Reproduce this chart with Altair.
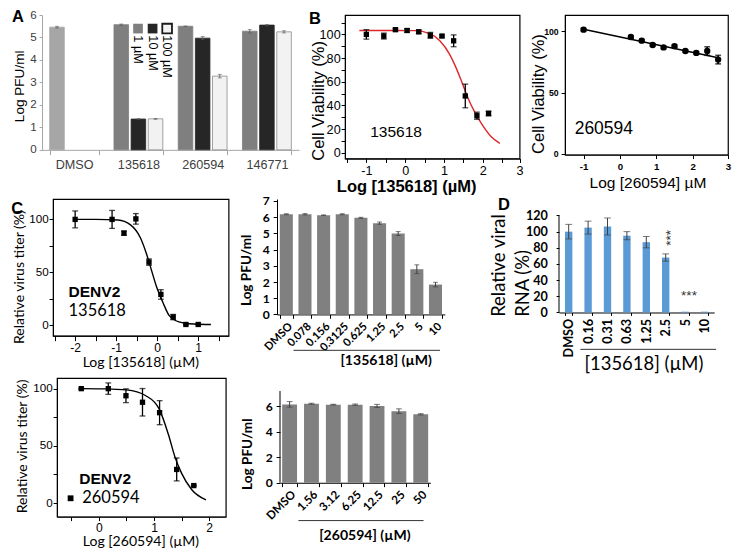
import altair as alt
import pandas as pd

S = 0.97


def s(v):
    return round(v * S, 3)


ARIAL = "Liberation Sans, Arial, sans-serif"
NARROW = "Liberation Sans Narrow, Liberation Sans, Arial, sans-serif"
CAL = "Lato, Open Sans, sans-serif"

# ---------------- data ----------------
# Panel A
a_categories = ["DMSO", "135618", "260594", "146771"]
a_group = ["DMSO", "135618", "135618", "135618", "260594", "260594", "260594", "146771", "146771", "146771"]
a_series = ["DMSO", "1 µM", "10 µM", "100 µM", "1 µM", "10 µM", "100 µM", "1 µM", "10 µM", "100 µM"]
a_slot = ["1 µM", "1 µM", "10 µM", "100 µM", "1 µM", "10 µM", "100 µM", "1 µM", "10 µM", "100 µM"]
a_value = [5.46, 5.57, 1.37, 1.38, 5.50, 4.97, 3.28, 5.28, 5.55, 5.25]
a_err = [0.04, 0.03, 0.02, 0.02, 0.01, 0.07, 0.08, 0.08, 0.03, 0.05]
a_legend = ["1 µM", "10 µM", "100 µM"]
a_series_domain = ["DMSO", "1 µM", "10 µM", "100 µM"]

# Panel B left (135618 cell viability)
bl_x = [-1.0, -0.55, -0.25, 0.05, 0.35, 0.65, 0.95, 1.25, 1.55, 1.85, 2.15]
bl_y = [100, 98.6, 104, 103.3, 102.2, 99.2, 98.6, 94.6, 48, 31.3, 33.2]
bl_err = [4, 2.5, 1, 1.5, 1.5, 2.5, 1, 5, 10, 3, 2]
bl_fit_x = [-1.18, -0.5, 0.24, 0.65, 0.9, 1.14, 1.3, 1.47, 1.63, 1.79, 1.96, 2.2, 2.44]
bl_fit_y = [103.3, 103.3, 103.2, 100.5, 94.5, 83.6, 72.8, 59, 45.5, 34.6, 25, 14.2, 7.9]

# Panel B right (260594 cell viability)
br_x = [-1, 0.3, 0.6, 0.9, 1.2, 1.5, 1.8, 2.1, 2.4, 2.7]
br_y = [101.5, 95.5, 92.5, 89, 87, 88, 84, 82.5, 84, 77]
br_err = [1, 1, 1, 1, 1, 1, 1, 1, 3.5, 3.5]
br_fit_x = [-1, 2.7]
br_fit_y = [101.8, 78.5]

# Panel C top-left (135618 titer)
ctl_x = [-2, -1.1, -0.81, -0.52, -0.2, 0.09, 0.39, 0.7, 1.0]
ctl_y = [100, 100, 87, 100.5, 59.6, 29, 7.6, 0.6, 0.6]
ctl_err = [8, 8.5, 2, 5, 3, 4.5, 2.5, 0.5, 0.5]
ctl_fit_x = [-2.02, -1.5, -0.96, -0.65, -0.41, -0.26, -0.14, -0.02, 0.14, 0.29, 0.53, 0.9, 1.31]
ctl_fit_y = [100, 100, 99.4, 94.8, 82.6, 67.3, 52, 36.7, 21.4, 9.2, 3.1, 1.0, 0.5]

# Panel C top-right (135618 PFU)
ctr_doses = ["DMSO", "0.078", "0.156", "0.3125", "0.625", "1.25", "2.5", "5", "10"]
ctr_vals = [6.18, 6.18, 6.12, 6.18, 5.96, 5.63, 4.99, 2.79, 1.84]
ctr_err = [0.03, 0.04, 0.02, 0.03, 0.03, 0.07, 0.12, 0.27, 0.14]

# Panel D (viral RNA)
d_doses = ["DMSO", "0.16", "0.31", "0.63", "1.25", "2.5", "5", "10"]
d_vals = [100, 105, 106.4, 95, 87, 68, 1, 1]
d_err = [9, 8, 10.5, 5, 7, 4.5, 0, 0]

# Panel C bottom-left (260594 titer)
cbl_x = [-0.32, 0.17, 0.49, 0.79, 1.1, 1.41, 1.72]
cbl_y = [100, 100, 93.8, 88.1, 79, 29.4, 15.3]
cbl_err = [0.5, 5, 6, 12, 10.5, 10, 0.5]
cbl_fit_x = [-0.32, 0.1, 0.5, 0.85, 1.09, 1.26, 1.38, 1.5, 1.68, 1.94]
cbl_fit_y = [100, 99.8, 98.9, 93.8, 82.5, 59.9, 40.1, 26, 11.9, 2.8]

# Panel C bottom-right (260594 PFU)
cbr_doses = ["DMSO", "1.56", "3.12", "6.25", "12.5", "25", "50"]
cbr_vals = [6.15, 6.2, 6.13, 6.13, 6.03, 5.62, 5.37]
cbr_err = [0.22, 0.04, 0.03, 0.05, 0.12, 0.18, 0.05]

panel_letters = ["A", "B", "C", "D"]

# colours
a_fill = ["#a6a6a6", "#7f7f7f", "#262626", "#f2f2f2"]
a_stroke = ["#a6a6a6", "#7f7f7f", "#262626", "#8c8c8c"]

INT_LABEL = "datum.value % 1 === 0 ? '' + datum.value : ''"


# ---------------- helpers ----------------
def text_layer(txt, x, y, size, font=ARIAL, weight="normal", align="left",
               baseline="middle", angle=0, color="#000"):
    return alt.Chart(pd.DataFrame({"t": [txt]})).mark_text(
        font=font, fontSize=size, fontWeight=weight, align=align,
        baseline=baseline, angle=angle, color=color
    ).encode(x=alt.value(x), y=alt.value(y), text="t:N")


def letter(ch, dx, dy):
    return text_layer(ch, s(dx), s(dy), s(17), weight="bold", baseline="alphabetic")


def band(dx, dy1, dy2):
    # invisible rule fixing a row's layout extent
    return alt.Chart(pd.DataFrame({"t": [0]})).mark_rule(strokeOpacity=0).encode(
        x=alt.value(s(dx)), y=alt.value(s(dy1)), y2=alt.value(s(dy2)))


def hrule(x1, x2, y):
    return alt.Chart(pd.DataFrame({"t": [0]})).mark_rule(color="#333", strokeWidth=1).encode(
        x=alt.value(s(x1)), x2=alt.value(s(x2)), y=alt.value(s(y)))


def spacer(w):
    return alt.Chart(pd.DataFrame({"t": [0]})).mark_rule(strokeOpacity=0).encode(
        x=alt.value(0), y=alt.value(0), y2=alt.value(0.5)).properties(width=s(w), height=s(10))


def scatter_layers(xv, yv, ev, fx, fy, xsc, ysc, xax, yax, shape, psize,
                   lcolor, interp, cap, ew):
    d = pd.DataFrame({"x": xv, "y": yv, "err": ev})
    d["lo"] = d["y"] - d["err"]
    d["hi"] = d["y"] + d["err"]
    f = pd.DataFrame({"x": fx, "y": fy})

    def X(field):
        return alt.X(field, type="quantitative", scale=xsc, axis=xax)

    def Y(field):
        return alt.Y(field, type="quantitative", scale=ysc, axis=yax)

    line = alt.Chart(f).mark_line(color=lcolor, strokeWidth=1.4, interpolate=interp).encode(
        x=X("x"), y=Y("y"))
    err = alt.Chart(d).mark_rule(color="#000", strokeWidth=ew).encode(
        x=X("x"), y=Y("lo"), y2="hi:Q")
    caplo = alt.Chart(d).mark_tick(color="#000", orient="horizontal", size=cap, thickness=ew).encode(
        x=X("x"), y=Y("lo"))
    caphi = alt.Chart(d).mark_tick(color="#000", orient="horizontal", size=cap, thickness=ew).encode(
        x=X("x"), y=Y("hi"))
    pts = alt.Chart(d).mark_point(shape=shape, filled=True, size=psize, color="#000", opacity=1).encode(
        x=X("x"), y=Y("y"))
    return [line, err, caplo, caphi, pts]


def bar_layers(cats, vals, errs, xsc, ysc, xax, yax, color, cap, ew, axis_top=None):
    d = pd.DataFrame({"c": cats, "v": vals, "e": errs})
    d["lo"] = d["v"] - d["e"]
    d["hi"] = d["v"] + d["e"]
    de = d[d["e"] > 0]
    X = alt.X("c:N", sort=cats, scale=xsc, axis=xax)

    def Y(field):
        return alt.Y(field, type="quantitative", scale=ysc, axis=yax)

    bars = alt.Chart(d).mark_bar(color=color).encode(x=X, y=Y("v"))
    err = alt.Chart(de).mark_rule(color="#404040", strokeWidth=ew).encode(x=X, y=Y("lo"), y2="hi:Q")
    caplo = alt.Chart(de).mark_tick(color="#404040", size=cap, thickness=ew).encode(x=X, y=Y("lo"))
    caphi = alt.Chart(de).mark_tick(color="#404040", size=cap, thickness=ew).encode(x=X, y=Y("hi"))
    out = [bars, err, caplo, caphi]
    if axis_top is not None:
        # y-axis line drawn only over the labelled range
        dl = pd.DataFrame({"a0": [0], "a1": [axis_top]})
        out.append(alt.Chart(dl).mark_rule(color="#000", strokeWidth=1).encode(
            x=alt.value(0), y=Y("a0"), y2="a1:Q"))
    return out


FRAME = alt.ViewBackground(stroke="#000", strokeWidth=1.2)

# ---------------- Panel A ----------------
dfA = pd.DataFrame({"group": a_group, "series": a_series, "slot": a_slot,
                    "value": a_value, "err": a_err})
dfA["lo"] = dfA["value"] - dfA["err"]
dfA["hi"] = dfA["value"] + dfA["err"]

axA_x = alt.Axis(title=None, labelAngle=0, tickBand="extent", tickSize=s(5), labelPadding=s(4),
                 labelFont=NARROW, labelFontSize=s(13), labelColor="#404040",
                 domainColor="#a6a6a6", tickColor="#a6a6a6", labelBaseline="top")
axA_y = alt.Axis(values=[0, 1, 2, 3, 4, 5, 6], title="Log PFU/ml", titleFont=ARIAL,
                 titleFontSize=s(14), titleFontWeight="normal", titleX=s(-23), titleY=s(73),
                 titleBaseline="middle", tickSize=s(3), labelPadding=s(3), labelFont=NARROW,
                 labelFontSize=s(12), labelColor="#404040", domainColor="#a6a6a6",
                 tickColor="#a6a6a6")
scA_x = alt.Scale(paddingInner=0.24, paddingOuter=0.12)
scA_y = alt.Scale(domain=[0, 6], nice=False)
scA_o = alt.Scale(paddingInner=0.15)
scA_c = alt.Scale(domain=a_series_domain, range=a_fill)
scA_s = alt.Scale(domain=a_series_domain, range=a_stroke)
XA = alt.X("group:N", sort=a_categories, scale=scA_x, axis=axA_x)
OA = alt.XOffset("slot:N", sort=a_legend, scale=scA_o)


def YA(f):
    return alt.Y(f, type="quantitative", scale=scA_y, axis=axA_y)


barsA = alt.Chart(dfA).mark_bar(strokeWidth=0.8).encode(
    x=XA, xOffset=OA, y=YA("value"),
    color=alt.Color("series:N", scale=scA_c, legend=None),
    stroke=alt.Stroke("series:N", scale=scA_s, legend=None))
errA = alt.Chart(dfA).mark_rule(color="#595959", strokeWidth=0.8).encode(
    x=XA, xOffset=OA, y=YA("lo"), y2="hi:Q")
capLoA = alt.Chart(dfA).mark_tick(color="#595959", thickness=0.8, size=s(4)).encode(
    x=XA, xOffset=OA, y=YA("lo"))
capHiA = alt.Chart(dfA).mark_tick(color="#595959", thickness=0.8, size=s(4)).encode(
    x=XA, xOffset=OA, y=YA("hi"))

# legend drawn inside the plot (squares + rotated labels)
dfLeg = pd.DataFrame({"lab": a_legend})
leg_index = "indexof(['1 µM', '10 µM', '100 µM'], datum.lab)"
XL = alt.X("i:Q", scale=alt.Scale(domain=[0, 2], range=[s(99), s(129)], nice=False, zero=False),
           axis=None)
legSq = alt.Chart(dfLeg).transform_calculate(i=leg_index).mark_square(
    size=s(10) ** 2, opacity=1, stroke="#1a1a1a").encode(
    x=XL, y=alt.value(s(14)),
    color=alt.Color("lab:N", scale=scA_c, legend=None),
    strokeWidth=alt.condition("datum.lab == '100 µM'", alt.value(1.8), alt.value(0)))
legTx = alt.Chart(dfLeg).transform_calculate(i=leg_index).mark_text(
    angle=90, align="left", baseline="middle", font=ARIAL, fontSize=s(13), color="#000").encode(
    x=XL, y=alt.value(s(21)), text="lab:N")

A = alt.layer(
    alt.layer(barsA, errA, capLoA, capHiA), legSq, legTx,
    letter(panel_letters[0], -31, 7), band(-33, -7, 189.5)
).resolve_scale(x="independent").properties(width=s(265), height=s(139))

# ---------------- Panel B left ----------------
xsBL = alt.Scale(domain=[-1.55, 2.95], nice=False, zero=False)
ysBL = alt.Scale(domain=[-4.9, 116.4], nice=False, zero=False)
axBL_x = alt.Axis(values=[-1.5, -1, -0.5, 0, 0.5, 1, 1.5, 2, 2.5, 2.95],
                  labelExpr="datum.value > 2.9 ? '3' : (datum.value % 1 === 0 ? '' + datum.value : '')",
                  title="Log [135618] (µM)", titleFont=ARIAL, titleFontSize=s(17),
                  titleFontWeight="bold", titleX=s(63), titleY=s(29), titleBaseline="middle",
                  labelFont=ARIAL, labelFontSize=s(13), tickSize=s(4), labelPadding=s(2),
                  labelBaseline="top")
axBL_y = alt.Axis(values=list(range(0, 111, 10)),
                  labelExpr="datum.value % 20 === 0 && datum.value <= 100 ? datum.label : ''",
                  title="Cell Viability (%)", titleFont=ARIAL, titleFontSize=s(17),
                  titleFontWeight="normal", titleX=s(-27), titleY=s(88), titleBaseline="middle",
                  labelFont=ARIAL, labelFontSize=s(13), tickSize=s(4), labelPadding=s(1))
BL = alt.layer(
    *scatter_layers(bl_x, bl_y, bl_err, bl_fit_x, bl_fit_y, xsBL, ysBL, axBL_x, axBL_y,
                    "square", s(5.5) ** 2, "#e0262b", "monotone", s(6), 1.3),
    text_layer("135618", s(26), s(121), s(16)),
    letter(panel_letters[1], -37, 9)
).properties(width=s(180), height=s(148), view=FRAME)

# ---------------- Panel B right ----------------
xsBR = alt.Scale(domain=[-1.51, 2.97], nice=False, zero=False)
ysBR = alt.Scale(domain=[-0.8, 113.5], nice=False, zero=False)
axBR_x = alt.Axis(values=[-1, 0, 1, 2, 2.97], labelExpr="datum.value > 2.9 ? '3' : '' + datum.value",
                  title="Log [260594] µM", titleFont=ARIAL, titleFontSize=s(16),
                  titleFontWeight="normal", titleX=s(85), titleY=s(29), titleBaseline="middle",
                  labelFont=ARIAL, labelFontSize=s(10), labelFontWeight="bold", tickSize=s(4),
                  labelPadding=s(3), labelBaseline="top")
axBR_y = alt.Axis(values=[0, 50, 100], title="Cell Viability (%)", titleFont=ARIAL,
                  titleFontSize=s(17), titleFontWeight="normal", titleX=s(-27), titleY=s(81),
                  titleBaseline="middle", labelFont=ARIAL, labelFontSize=s(9),
                  labelFontWeight="bold", tickSize=s(4), labelPadding=s(3))
BR = alt.layer(
    *scatter_layers(br_x, br_y, br_err, br_fit_x, br_fit_y, xsBR, ysBR, axBR_x, axBR_y,
                    "circle", s(6.5) ** 2, "#000", "linear", s(6), 1.6),
    text_layer("260594", s(10), s(118), s(18))
).properties(width=s(168), height=s(144), view=FRAME)

# ---------------- Panel C top-left ----------------
xsCTL = alt.Scale(domain=[-2.54, 1.74], nice=False, zero=False)
ysCTL = alt.Scale(domain=[-10.1, 119.3], nice=False, zero=False)
axCTL_x = alt.Axis(values=[-2.5, -2, -1.5, -1, -0.5, 0, 0.5, 1, 1.5], labelExpr=INT_LABEL,
                   title="Log [135618] (µM)", titleFont=CAL, titleFontSize=s(14.5),
                   titleFontWeight="normal", titleX=s(90), titleY=s(28), titleBaseline="middle",
                   labelFont=ARIAL, labelFontSize=s(12.5), tickSize=s(5), labelPadding=s(0.5),
                   labelBaseline="top")
axCTL_y = alt.Axis(values=[0, 25, 50, 75, 100], labelExpr="datum.value % 50 === 0 ? datum.label : ''",
                   title="Relative virus titer (%)", titleFont=CAL, titleFontSize=s(14.5),
                   titleFontWeight="normal", titleX=s(-35), titleY=s(80), titleBaseline="middle",
                   labelFont=ARIAL, labelFontSize=s(12), tickSize=s(4), labelPadding=s(1))
CTL = alt.layer(
    *scatter_layers(ctl_x, ctl_y, ctl_err, ctl_fit_x, ctl_fit_y, xsCTL, ysCTL, axCTL_x, axCTL_y,
                    "square", s(5.5) ** 2, "#000", "monotone", s(6), 1.3),
    text_layer("DENV2", s(16), s(96), s(16), weight="bold"),
    text_layer("135618", s(16), s(115), s(17), font=CAL),
    letter(panel_letters[2], -43, 15),
    band(-45, -5, 183)
).properties(width=s(181), height=s(141), view=FRAME)

# ---------------- Panel C top-right ----------------
xsCTR = alt.Scale(paddingInner=0.3, paddingOuter=0.15)
ysCTR = alt.Scale(domain=[0, 7.12], nice=False)
axCTR_x = alt.Axis(title="[135618] (µM)", titleFont=CAL, titleFontSize=s(14.5), titleFontWeight="bold",
                   titleX=s(112), titleY=s(47), titleBaseline="middle", labelAngle=-45,
                   labelFont=CAL, labelFontWeight="bold", labelFontSize=s(11.5),
                   tickBand="extent", tickSize=s(4), labelPadding=s(2))
axCTR_y = alt.Axis(values=[0, 1, 2, 3, 4, 5, 6, 7], title="Log PFU/ml", titleFont=CAL,
                   titleFontSize=s(14), titleFontWeight="bold", titleX=s(-31), titleY=s(73),
                   titleBaseline="middle", labelFont=CAL, labelFontWeight="bold",
                   labelFontSize=s(12.5), tickSize=s(4), labelPadding=s(4))
CTR = alt.layer(
    *bar_layers(ctr_doses, ctr_vals, ctr_err, xsCTR, ysCTR, axCTR_x, axCTR_y, "#808080", s(5), 1),
    hrule(17, 168, 156)
).properties(width=s(173), height=s(119))

# ---------------- Panel D ----------------
xsD = alt.Scale(paddingInner=0.62, paddingOuter=0.31)
ysD = alt.Scale(domain=[0, 140.4], nice=False)
axD_x = alt.Axis(title="[135618] (µM)", titleFont=CAL, titleFontSize=s(19), titleFontWeight="normal",
                 titleX=s(87), titleY=s(53), titleBaseline="middle", labelAngle=-90,
                 labelFont=CAL, labelFontWeight="bold", labelFontSize=s(13),
                 tickBand="extent", tickSize=s(3), labelPadding=s(3))
axD_y = alt.Axis(values=[0, 20, 40, 60, 80, 100, 120], domain=False,
                 title=["Relative viral", "RNA (%)"], titleFont=CAL, titleFontSize=s(19),
                 titleFontWeight="normal", titleX=s(-62), titleY=s(121), titleAlign="left",
                 titleBaseline="middle", titleLineHeight=s(24), labelFont=CAL,
                 labelFontWeight="bold", labelFontSize=s(13), tickSize=s(3), labelPadding=s(9))
D = alt.layer(
    *bar_layers(d_doses, d_vals, d_err, xsD, ysD, axD_x, axD_y, "#5b9bd5", s(7), 1, axis_top=120),
    hrule(22, 162, 155),
    text_layer("***", s(115), s(40), s(14), align="center", angle=270, color="#333"),
    text_layer("***", s(134), s(100), s(14), align="center", color="#333"),
    letter(panel_letters[3], -63, 11)
).properties(width=s(160), height=s(117))

# ---------------- Panel C bottom-left ----------------
xsCBL = alt.Scale(domain=[-0.76, 2.30], nice=False, zero=False)
ysCBL = alt.Scale(domain=[-11.9, 109.3], nice=False, zero=False)
axCBL_x = alt.Axis(values=[-0.5, 0, 0.5, 1, 1.5, 2], labelExpr=INT_LABEL,
                   title="Log [260594] (µM)", titleFont=CAL, titleFontSize=s(14.5),
                   titleFontWeight="normal", titleX=s(86), titleY=s(25.5), titleBaseline="middle",
                   labelFont=ARIAL, labelFontSize=s(12.5), tickSize=s(4), labelPadding=s(0.5),
                   labelBaseline="top")
axCBL_y = alt.Axis(values=[0, 25, 50, 75, 100], labelExpr="datum.value % 50 === 0 ? datum.label : ''",
                   title="Relative virus titer (%)", titleFont=CAL, titleFontSize=s(14.5),
                   titleFontWeight="normal", titleX=s(-36), titleY=s(70), titleBaseline="middle",
                   labelFont=ARIAL, labelFontSize=s(12), tickSize=s(4), labelPadding=s(1))
sq_legend = alt.Chart(pd.DataFrame({"t": [0]})).mark_square(size=s(6) ** 2, color="#000", opacity=1).encode(
    x=alt.value(s(14)), y=alt.value(s(124)))
CBL = alt.layer(
    *scatter_layers(cbl_x, cbl_y, cbl_err, cbl_fit_x, cbl_fit_y, xsCBL, ysCBL, axCBL_x, axCBL_y,
                    "square", s(5.5) ** 2, "#000", "monotone", s(6), 1.3),
    text_layer("DENV2", s(23), s(104), s(16), weight="bold"),
    sq_legend,
    text_layer("260594", s(26), s(124), s(17), font=CAL),
    band(-49, -5, 170)
).properties(width=s(174), height=s(143), view=FRAME)

# ---------------- Panel C bottom-right ----------------
xsCBR = alt.Scale(paddingInner=0.32, paddingOuter=0.1)
ysCBR = alt.Scale(domain=[0, 8.22], nice=False)
axCBR_x = alt.Axis(title="[260594] (µM)", titleFont=CAL, titleFontSize=s(14.5), titleFontWeight="bold",
                   titleX=s(87), titleY=s(54), titleBaseline="middle", labelAngle=-45,
                   labelFont=CAL, labelFontWeight="bold", labelFontSize=s(12),
                   tickBand="extent", tickSize=s(4), labelPadding=s(2))
axCBR_y = alt.Axis(values=[0, 2, 4, 6], domain=False, title="Log PFU/ml", titleFont=CAL,
                   titleFontSize=s(14), titleFontWeight="bold", titleX=s(-34), titleY=s(78),
                   titleBaseline="middle", labelFont=CAL, labelFontWeight="bold",
                   labelFontSize=s(12.5), tickSize=s(4), labelPadding=s(4))
CBR = alt.layer(
    *bar_layers(cbr_doses, cbr_vals, cbr_err, xsCBR, ysCBR, axCBR_x, axCBR_y, "#808080", s(6), 1,
                axis_top=7.2),
    hrule(19, 148, 147)
).properties(width=s(155), height=s(108))

# ---------------- layout ----------------
# rows align on their first cell; explicit spacer cells set every horizontal gap.
# each row starts at the previous row's extent (set by the invisible band rules);
# the negative spacing cancels the extra offset for content drawn above a row's plots
row1 = alt.hconcat(spacer(33), A, spacer(46), BL, spacer(46), BR, spacing=0, bounds="flush")
row2 = alt.hconcat(spacer(45), CTL, spacer(49), CTR, spacer(117), D, spacing=0, bounds="flush")
row3 = alt.hconcat(spacer(49), CBL, spacer(55), CBR, spacing=0, bounds="flush")

chart = alt.vconcat(row1, row2, row3, spacing=-20).properties(padding=0).configure(
    font=ARIAL
).configure_view(
    strokeWidth=0
).configure_axis(
    grid=False, domainColor="#000", tickColor="#000", labelColor="#000", titleColor="#000",
    labelOverlap=False, labelFlush=False
)

chart.save("out.html", embed_options={"renderer": "svg", "actions": False})
